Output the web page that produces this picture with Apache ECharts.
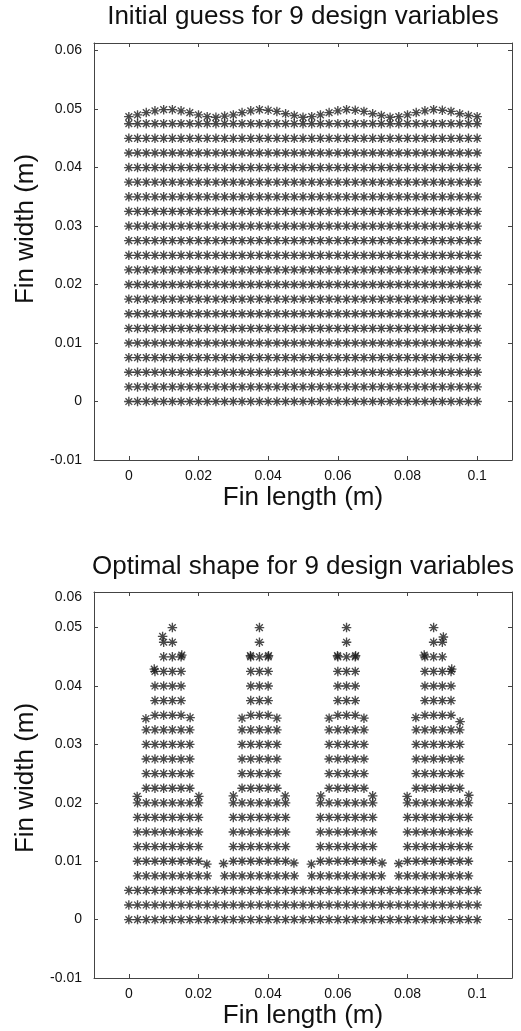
<!DOCTYPE html>
<html><head><meta charset="utf-8">
<script src="https://cdn.jsdelivr.net/npm/echarts@6/dist/echarts.min.js"></script>
<style>html,body{margin:0;padding:0;background:#fff}#c{width:521px;height:1031px}</style>
</head><body><div id="c"></div>
<script>
// ---------- data ----------
const xNodes = [0, 0.0025, 0.005, 0.0075, 0.01, 0.0125, 0.015, 0.0175, 0.02, 0.0225,
  0.025, 0.0275, 0.03, 0.0325, 0.035, 0.0375, 0.04, 0.0425, 0.045, 0.0475,
  0.05, 0.0525, 0.055, 0.0575, 0.06, 0.0625, 0.065, 0.0675, 0.07, 0.0725,
  0.075, 0.0775, 0.08, 0.0825, 0.085, 0.0875, 0.09, 0.0925, 0.095, 0.0975, 0.1];
// initial guess: flat mesh rows
const initRowY = [0, 0.0025, 0.005, 0.0075, 0.01, 0.0125, 0.015, 0.0175, 0.02, 0.0225,
  0.025, 0.0275, 0.03, 0.0325, 0.035, 0.0375, 0.04, 0.0425, 0.045, 0.0475];
// initial guess: wavy top boundary row (one value per x node)
const initTopY = [0.0487, 0.0490, 0.0494, 0.0497, 0.0499, 0.0499, 0.0497, 0.0494, 0.0490, 0.0487,
  0.0486, 0.0488, 0.0490, 0.0494, 0.0497, 0.0499, 0.0498, 0.0496, 0.0492, 0.0489,
  0.0486, 0.0487, 0.0490, 0.0494, 0.0497, 0.0499, 0.0498, 0.0496, 0.0492, 0.0489,
  0.0486, 0.0487, 0.0490, 0.0494, 0.0497, 0.0499, 0.0498, 0.0496, 0.0492, 0.0489, 0.0487];
// optimal shape: row levels and the node-index spans present in each row
const optRowY = [0, 0.0025, 0.005, 0.0075, 0.01, 0.0125, 0.015, 0.0175, 0.02, 0.0225,
  0.025, 0.0275, 0.03, 0.0325, 0.035, 0.0375, 0.04, 0.0425, 0.045, 0.0475, 0.05];
const optRowSpans = [
  [[0, 40]], [[0, 40]], [[0, 40]],
  [[1, 9], [11, 19], [21, 29], [31, 39]],
  [[1, 8], [12, 18], [22, 28], [32, 39]],
  [[1, 8], [12, 18], [22, 28], [32, 39]],
  [[1, 8], [12, 18], [22, 28], [32, 39]],
  [[1, 8], [12, 18], [22, 28], [32, 39]],
  [[1, 8], [12, 18], [22, 28], [32, 39]],
  [[2, 7], [13, 17], [23, 27], [33, 38]],
  [[2, 7], [13, 17], [23, 27], [33, 38]],
  [[2, 7], [13, 17], [23, 27], [33, 38]],
  [[2, 7], [13, 17], [23, 27], [33, 38]],
  [[2, 7], [13, 17], [23, 27], [33, 38]],
  [[3, 6], [14, 16], [24, 26], [34, 37]],
  [[3, 6], [14, 16], [24, 26], [34, 37]],
  [[3, 6], [14, 16], [24, 26], [34, 37]],
  [[3, 6], [14, 16], [24, 26], [34, 37]],
  [[4, 6], [14, 16], [24, 26], [34, 36]],
  [[4, 5], [15, 15], [25, 25], [35, 36]],
  [[5, 5], [15, 15], [25, 25], [35, 35]]
];
// optimal shape: displaced boundary nodes
const optExtraX = [0.0049, 0.0176, 0.0325, 0.0425, 0.0575, 0.0675, 0.0824, 0.0951,
  0.0024, 0.0201, 0.0300, 0.0449, 0.0551, 0.0700, 0.0799, 0.0976,
  0.0224, 0.0272, 0.0474, 0.0524, 0.0727, 0.0775,
  0.0097, 0.0152, 0.0073, 0.0349, 0.0401, 0.0599, 0.0651, 0.0903, 0.0848, 0.0927];
const optExtraY = [0.0344, 0.0346, 0.0345, 0.0345, 0.0345, 0.0345, 0.0346, 0.0339,
  0.0211, 0.0211, 0.0212, 0.0212, 0.0212, 0.0212, 0.0211, 0.0213,
  0.0095, 0.0096, 0.0097, 0.0095, 0.0097, 0.0096,
  0.0485, 0.0453, 0.0429, 0.0452, 0.0452, 0.0452, 0.0452, 0.0484, 0.0453, 0.0429];

const xTickVals = [0, 0.02, 0.04, 0.06, 0.08, 0.1];
const xTickLabels = ['0', '0.02', '0.04', '0.06', '0.08', '0.1'];
const yTickVals = [-0.01, 0, 0.01, 0.02, 0.03, 0.04, 0.05, 0.06];
const yTickLabels = ['-0.01', '0', '0.01', '0.02', '0.03', '0.04', '0.05', '0.06'];
const yTickValsOpt = [-0.01, 0, 0.01, 0.02, 0.03, 0.04, 0.05];
const titles = ['Initial guess for 9 design variables', 'Optimal shape for 9 design variables'];
const xName = 'Fin length (m)';
const yName = 'Fin width (m)';

// ---------- build point lists ----------
const initData = [];
initRowY.forEach(y => xNodes.forEach(x => initData.push([x, y])));
xNodes.forEach((x, i) => initData.push([x, initTopY[i]]));
const optData = [];
optRowSpans.forEach((spans, j) => spans.forEach(([a, b]) => {
  for (let i = a; i <= b; i++) optData.push([xNodes[i], optRowY[j]]);
}));
optExtraX.forEach((x, k) => optData.push([x, optExtraY[k]]));

// ---------- chart ----------
const FONT = "'Liberation Sans', Arial, Helvetica, sans-serif";
const AX = '#444';
const TXT = '#111';
const lookup = (vals, labs) => v => {
  for (let i = 0; i < vals.length; i++) if (Math.abs(vals[i] - v) < 1e-6) return labs[i];
  return '';
};
const Y_MAX = [0.0613, 0.0561];
const grids = [
  { left: 94, top: 43, width: 418, height: 417 },
  { left: 94, top: 592, width: 418, height: 386 }
];

const xAxes = [], yAxes = [];
[0, 1].forEach(g => {
  xAxes.push({
    gridIndex: g, type: 'value', min: -0.01, max: 0.11, position: 'bottom',
    axisLine: { show: true, onZero: false, lineStyle: { color: AX, width: 1 } },
    axisTick: { show: true, inside: true, length: 4, customValues: xTickVals, lineStyle: { color: AX } },
    axisLabel: { customValues: xTickVals, formatter: lookup(xTickVals, xTickLabels), fontSize: 14, color: TXT, margin: 9, fontFamily: FONT },
    splitLine: { show: false },
    name: xName, nameLocation: 'middle', nameGap: 25, nameMoveOverlap: false,
    nameTextStyle: { fontSize: 26, color: TXT, fontFamily: FONT }
  });
  xAxes.push({
    gridIndex: g, type: 'value', min: -0.01, max: 0.11, position: 'top',
    axisLine: { show: true, onZero: false, lineStyle: { color: AX, width: 1 } },
    axisTick: { show: true, inside: true, length: 4, customValues: xTickVals, lineStyle: { color: AX } },
    axisLabel: { show: false }, splitLine: { show: false }
  });
  const yLabVals = g === 0 ? yTickVals : yTickValsOpt.concat([Y_MAX[1]]);
  const yFmt = g === 0 ? lookup(yTickVals, yTickLabels)
    : (v => (Math.abs(v - Y_MAX[1]) < 1e-6 ? '{t|' + yTickLabels[7] + '}' : lookup(yTickValsOpt, yTickLabels)(v)));
  yAxes.push({
    gridIndex: g, type: 'value', min: -0.01, max: Y_MAX[g], position: 'left',
    axisLine: { show: true, onZero: false, lineStyle: { color: AX, width: 1 } },
    axisTick: { show: true, inside: true, length: 4, customValues: g === 0 ? yTickVals : yTickValsOpt, lineStyle: { color: AX } },
    axisLabel: { customValues: yLabVals, formatter: yFmt, fontSize: 14, color: TXT, margin: 12, fontFamily: FONT,
      rich: { t: { fontSize: 14, color: TXT, fontFamily: FONT, padding: [10, 0, 0, 0] } } },
    splitLine: { show: false },
    name: yName, nameLocation: 'middle', nameGap: 55, nameMoveOverlap: false,
    nameTextStyle: { fontSize: 26, color: TXT, fontFamily: FONT, padding: g === 0 ? [0, 0, 0, 45] : [0, 0, 0, 14] }
  });
  yAxes.push({
    gridIndex: g, type: 'value', min: -0.01, max: Y_MAX[g], position: 'right',
    axisLine: { show: true, onZero: false, lineStyle: { color: AX, width: 1 } },
    axisTick: { show: true, inside: true, length: 4, customValues: g === 0 ? yTickVals : yTickValsOpt, lineStyle: { color: AX } },
    axisLabel: { show: false }, splitLine: { show: false }
  });
});

const STAR = 'path://M0,-5L0,5M-5,0L5,0M-3.54,-3.54L3.54,3.54M-3.54,3.54L3.54,-3.54';
const mk = (data, xi, yi) => ({
  type: 'scatter', data: data, xAxisIndex: xi, yAxisIndex: yi,
  symbol: STAR, symbolSize: 9.5, silent: true, animation: false,
  itemStyle: { color: 'rgba(0,0,0,0)', borderColor: '#1c1c1c', borderWidth: 1.35 },
  emphasis: { disabled: true }
});

const chart = echarts.init(document.getElementById('c'), null, { renderer: 'canvas' });
chart.setOption({
  backgroundColor: '#fff',
  animation: false,
  title: [
    { text: titles[0], left: 303, top: 4, textAlign: 'center', padding: 0,
      textStyle: { fontSize: 26, fontWeight: 'normal', color: TXT, fontFamily: FONT } },
    { text: titles[1], left: 303, top: 554, textAlign: 'center', padding: 0,
      textStyle: { fontSize: 26, fontWeight: 'normal', color: TXT, fontFamily: FONT } }
  ],
  grid: grids.map(g => Object.assign({ outerBoundsMode: 'none', containLabel: false }, g)),
  xAxis: xAxes,
  yAxis: yAxes,
  series: [mk(initData, 0, 0), mk(optData, 2, 2)]
});
</script></body></html>
